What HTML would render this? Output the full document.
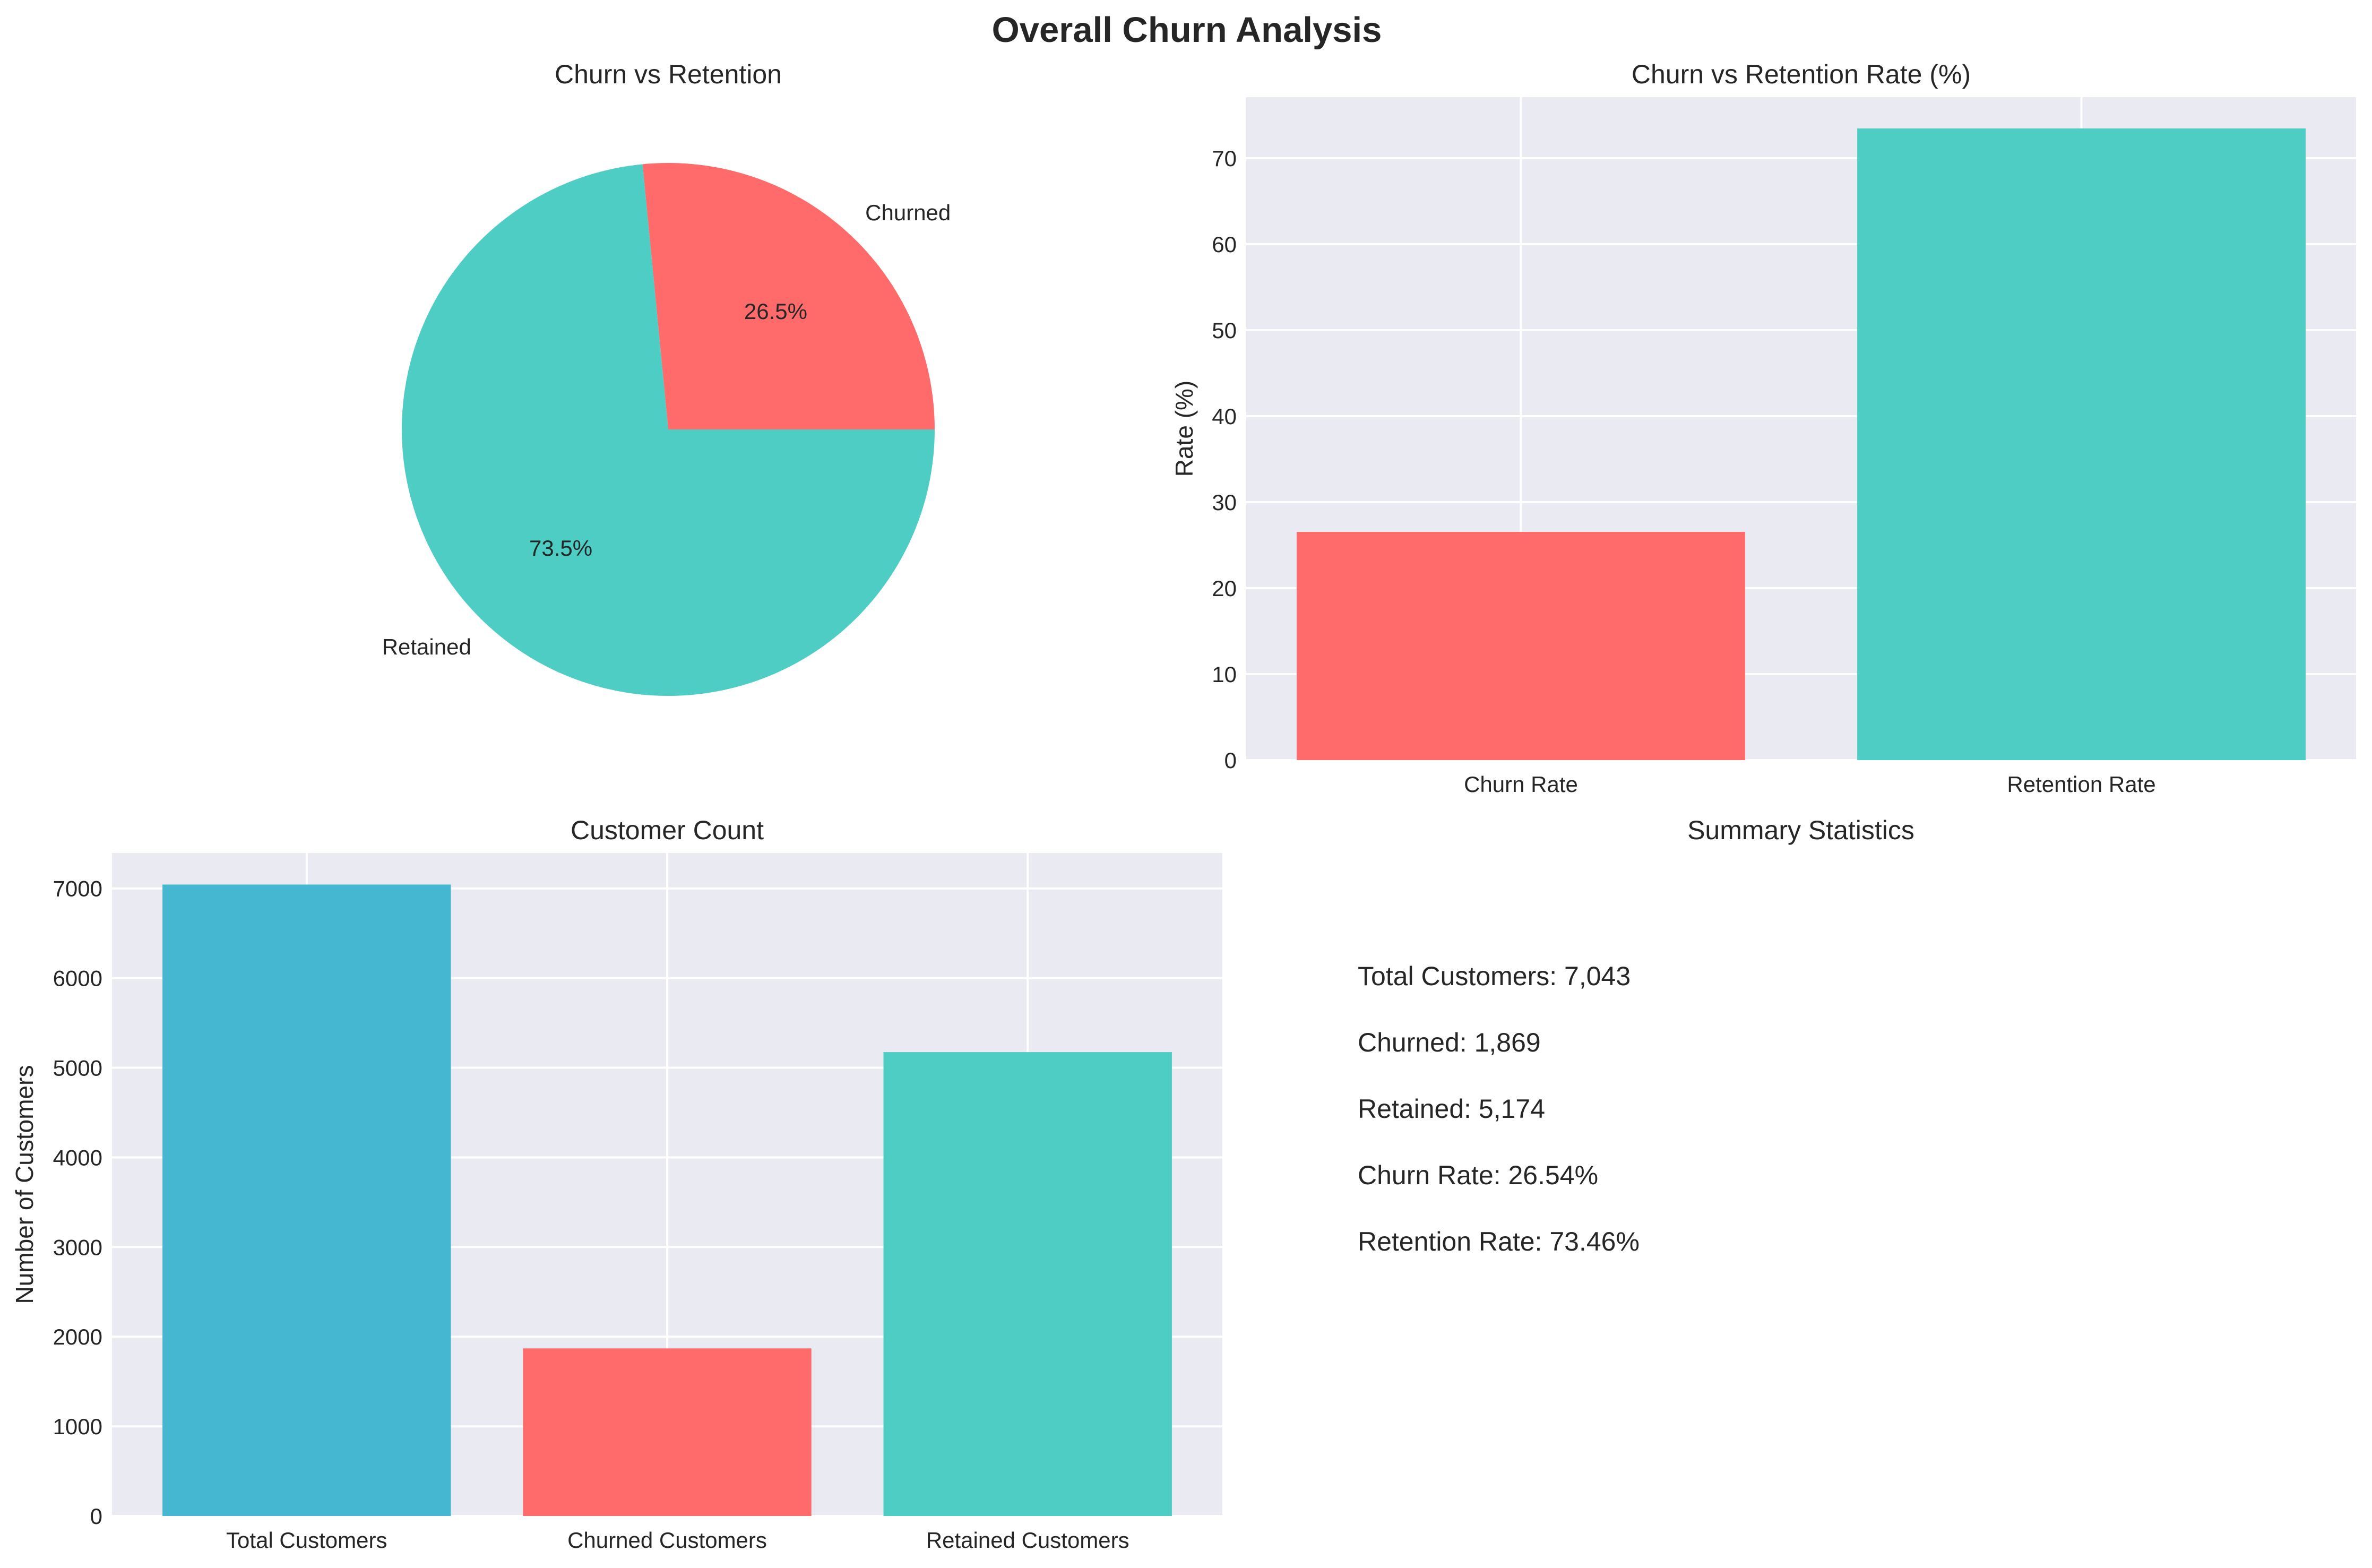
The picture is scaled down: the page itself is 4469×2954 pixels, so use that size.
<!DOCTYPE html>
<html><head><meta charset="utf-8">
<style>
html,body{margin:0;padding:0;background:#fff;}
svg{display:block;font-family:"Liberation Sans",Arial,sans-serif;}
</style></head>
<body>
<svg id="fig" width="4469" height="2954" viewBox="0 0 4469 2954" xmlns="http://www.w3.org/2000/svg">
<rect width="4469" height="2954" fill="#ffffff"/>
<text x="2236" y="79" text-anchor="middle" font-size="67" font-weight="bold" fill="#262626">Overall Churn Analysis</text>
<g id="pie"></g>
<g id="rate"></g>
<g id="count"></g>
<g id="summary"></g>
</svg>
<script>
const pieLabels = ["Churned", "Retained"];
const pieValues = [1869, 5174];
const pieColors = ["#FF6B6B", "#4ECDC4"];

const rateCategories = ["Churn Rate", "Retention Rate"];
const rateValues = [26.54, 73.46];
const rateTicks = [0, 10, 20, 30, 40, 50, 60, 70];

const countCategories = ["Total Customers", "Churned Customers", "Retained Customers"];
const countValues = [7043, 1869, 5174];
const countTicks = [0, 1000, 2000, 3000, 4000, 5000, 6000, 7000];

const summaryLines = ["Total Customers: 7,043", "Churned: 1,869", "Retained: 5,174", "Churn Rate: 26.54%", "Retention Rate: 73.46%"];

const NS = "http://www.w3.org/2000/svg";
function mk(parent, tag, attrs, text) {
  const e = document.createElementNS(NS, tag);
  for (const k in attrs) e.setAttribute(k, attrs[k]);
  if (text !== undefined) e.textContent = text;
  parent.appendChild(e);
  return e;
}

/* ---------- Pie ---------- */
(function () {
  const g = document.getElementById('pie');
  const cx = 1259, cy = 809, r = 502;
  const t = mk(g, 'text', {x: cx, y: 157, 'text-anchor': 'middle', 'font-size': 50, fill: '#262626'}, 'Churn vs Retention');
  
  
  const total = pieValues.reduce((a, b) => a + b, 0);
  let start = 0;
  pieValues.forEach((v, i) => {
    const sweep = v / total * 2 * Math.PI;
    const a0 = start, a1 = start + sweep;
    const x0 = cx + r * Math.cos(a0), y0 = cy - r * Math.sin(a0);
    const x1 = cx + r * Math.cos(a1), y1 = cy - r * Math.sin(a1);
    const large = sweep > Math.PI ? 1 : 0;
    const p = mk(g, 'path', {d: `M${cx},${cy} L${x0},${y0} A${r},${r} 0 ${large} 0 ${x1},${y1} Z`, fill: pieColors[i]});
    
    
    const mid = (a0 + a1) / 2;
    const lx = cx + 1.1 * r * Math.cos(mid), ly = cy - 1.1 * r * Math.sin(mid);
    const lab = mk(g, 'text', {x: lx, y: ly + 15, 'text-anchor': Math.cos(mid) >= 0 ? 'start' : 'end', 'font-size': 42, fill: '#262626'}, pieLabels[i]);
    
    
    const px = cx + 0.6 * r * Math.cos(mid), py = cy - 0.6 * r * Math.sin(mid);
    const pct = mk(g, 'text', {x: px, y: py + 15, 'text-anchor': 'middle', 'font-size': 42, fill: '#262626'}, (v / total * 100).toFixed(1) + '%');
    
    
    start = a1;
  });
})();

/* ---------- Bar chart helper ---------- */
function barChart(g, box, cats, vals, ticks, ymax, colors, title, ylabel, ylabelX, prefix) {
  const {left, right, top, bottom} = box;
  const n = cats.length;
  const margin = 0.05 * ((n - 1) + 0.8);
  const xmin = -0.4 - margin, xmax = (n - 1) + 0.4 + margin;
  const xs = v => left + (v - xmin) / (xmax - xmin) * (right - left);
  const ys = v => bottom - v / ymax * (bottom - top);
  const bg = mk(g, 'rect', {x: left, y: top, width: right - left, height: bottom - top, fill: '#EAEAF2'});
  
  
  ticks.forEach(tv => {
    const gl = mk(g, 'line', {x1: left, x2: right, y1: ys(tv), y2: ys(tv), stroke: '#fff', 'stroke-width': 4});
    
    
    const tl = mk(g, 'text', {x: left - 18, y: ys(tv) + 15, 'text-anchor': 'end', 'font-size': 42, fill: '#262626'}, String(tv));
    
    
  });
  cats.forEach((c, i) => {
    const gl = mk(g, 'line', {x1: xs(i), x2: xs(i), y1: top, y2: bottom, stroke: '#fff', 'stroke-width': 4});
    
    
  });
  cats.forEach((c, i) => {
    const x0 = xs(i - 0.4), x1 = xs(i + 0.4);
    const b = mk(g, 'rect', {x: x0, y: ys(vals[i]), width: x1 - x0, height: ys(0) - ys(vals[i]), fill: colors[i]});
    
    
    const tl = mk(g, 'text', {x: xs(i), y: bottom + 60, 'text-anchor': 'middle', 'font-size': 42, fill: '#262626'}, c);
    
    
  });
  const tt = mk(g, 'text', {x: (left + right) / 2, y: top - 26, 'text-anchor': 'middle', 'font-size': 50, fill: '#262626'}, title);
  
  
  const cy = (top + bottom) / 2;
  const yl = mk(g, 'text', {x: ylabelX, y: cy, 'text-anchor': 'middle', 'font-size': 46, fill: '#262626', transform: `rotate(-90 ${ylabelX} ${cy})`, dy: 16}, ylabel);
  
  
}

barChart(document.getElementById('rate'), {left: 2348, right: 4439, top: 183, bottom: 1432},
  rateCategories, rateValues, rateTicks, 77.1, ["#FF6B6B", "#4ECDC4"],
  'Churn vs Retention Rate (%)', 'Rate (%)', 2231, 'rate');

barChart(document.getElementById('count'), {left: 211, right: 2303, top: 1607, bottom: 2856},
  countCategories, countValues, countTicks, 7395, ["#45B7D1", "#FF6B6B", "#4ECDC4"],
  'Customer Count', 'Number of Customers', 46, 'count');

/* ---------- Summary ---------- */
(function () {
  const g = document.getElementById('summary');
  const t = mk(g, 'text', {x: 3393, y: 1581, 'text-anchor': 'middle', 'font-size': 50, fill: '#262626'}, 'Summary Statistics');
  
  
  summaryLines.forEach((s, i) => {
    const e = mk(g, 'text', {x: 2558, y: 1856 + i * 125, 'font-size': 50, fill: '#262626'}, s);
    
    
  });
})();
</script>
</body></html>
